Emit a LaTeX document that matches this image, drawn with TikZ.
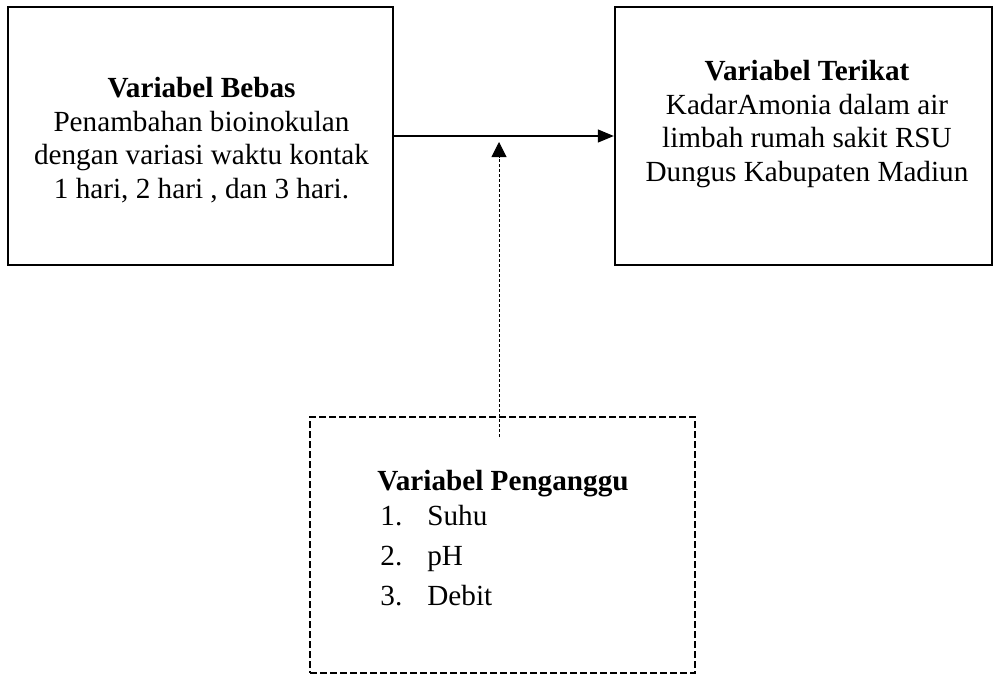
\documentclass[tikz,border=0pt]{standalone}
\usepackage{fontspec}
\setmainfont{Liberation Serif}
\usetikzlibrary{arrows.meta, positioning}
\newcommand{\butir}[1]{\hspace{1.5pt}\makebox[23.5pt][l]{#1}}

\begin{document}
\begin{tikzpicture}[x=0.5pt, y=-0.5pt,
        kotak/.style={draw, line width=1.2pt, minimum height=129pt},
        teks/.style={align=center, inner sep=0pt, font=\fontsize{14.6}{16.8}\selectfont}]
    \useasboundingbox (0,0) rectangle (996,675);

    % kotak variabel
    \node[kotak, minimum width=192.5pt] (bebas) at (200.5,136) {};
    \node[kotak, minimum width=188.5pt] (terikat) at (803.5,136) {};
    \node[draw, line width=1pt, dash pattern=on 3.5pt off 1.5pt,
        minimum width=192.5pt, minimum height=128pt] (pengganggu) at (502.5,545) {};

    \node[teks] (tbebas) at (201.5,140) {\textbf{Variabel Bebas}\\
        Penambahan bioinokulan\\dengan variasi waktu kontak\\1 hari, 2 hari , dan 3 hari.};
    \node[teks] (tterikat) at (807,124) {\textbf{Variabel Terikat}\\
        KadarAmonia dalam air\\limbah rumah sakit RSU\\Dungus Kabupaten Madiun};
    \node[teks, align=left, anchor=west] (tpengganggu) at (377,538) {\textbf{Variabel Penganggu}\\[0.5pt]
        \butir{1.}Suhu\\[3.2pt]
        \butir{2.}pH\\[3.2pt]
        \butir{3.}Debit};

    % panah
    \draw[-{Triangle[length=8pt,width=6.5pt]}, line width=0.65pt] (bebas) -- (terikat);
    \coordinate (pangkal) at (499,437);
    \coordinate (ujung) at (499,142);
    \draw[-{Triangle[length=7.5pt,width=7.5pt]}, line width=0.5pt,
        dash pattern=on 1.5pt off 1pt] (pangkal) -- (ujung);
\end{tikzpicture}
\end{document}
